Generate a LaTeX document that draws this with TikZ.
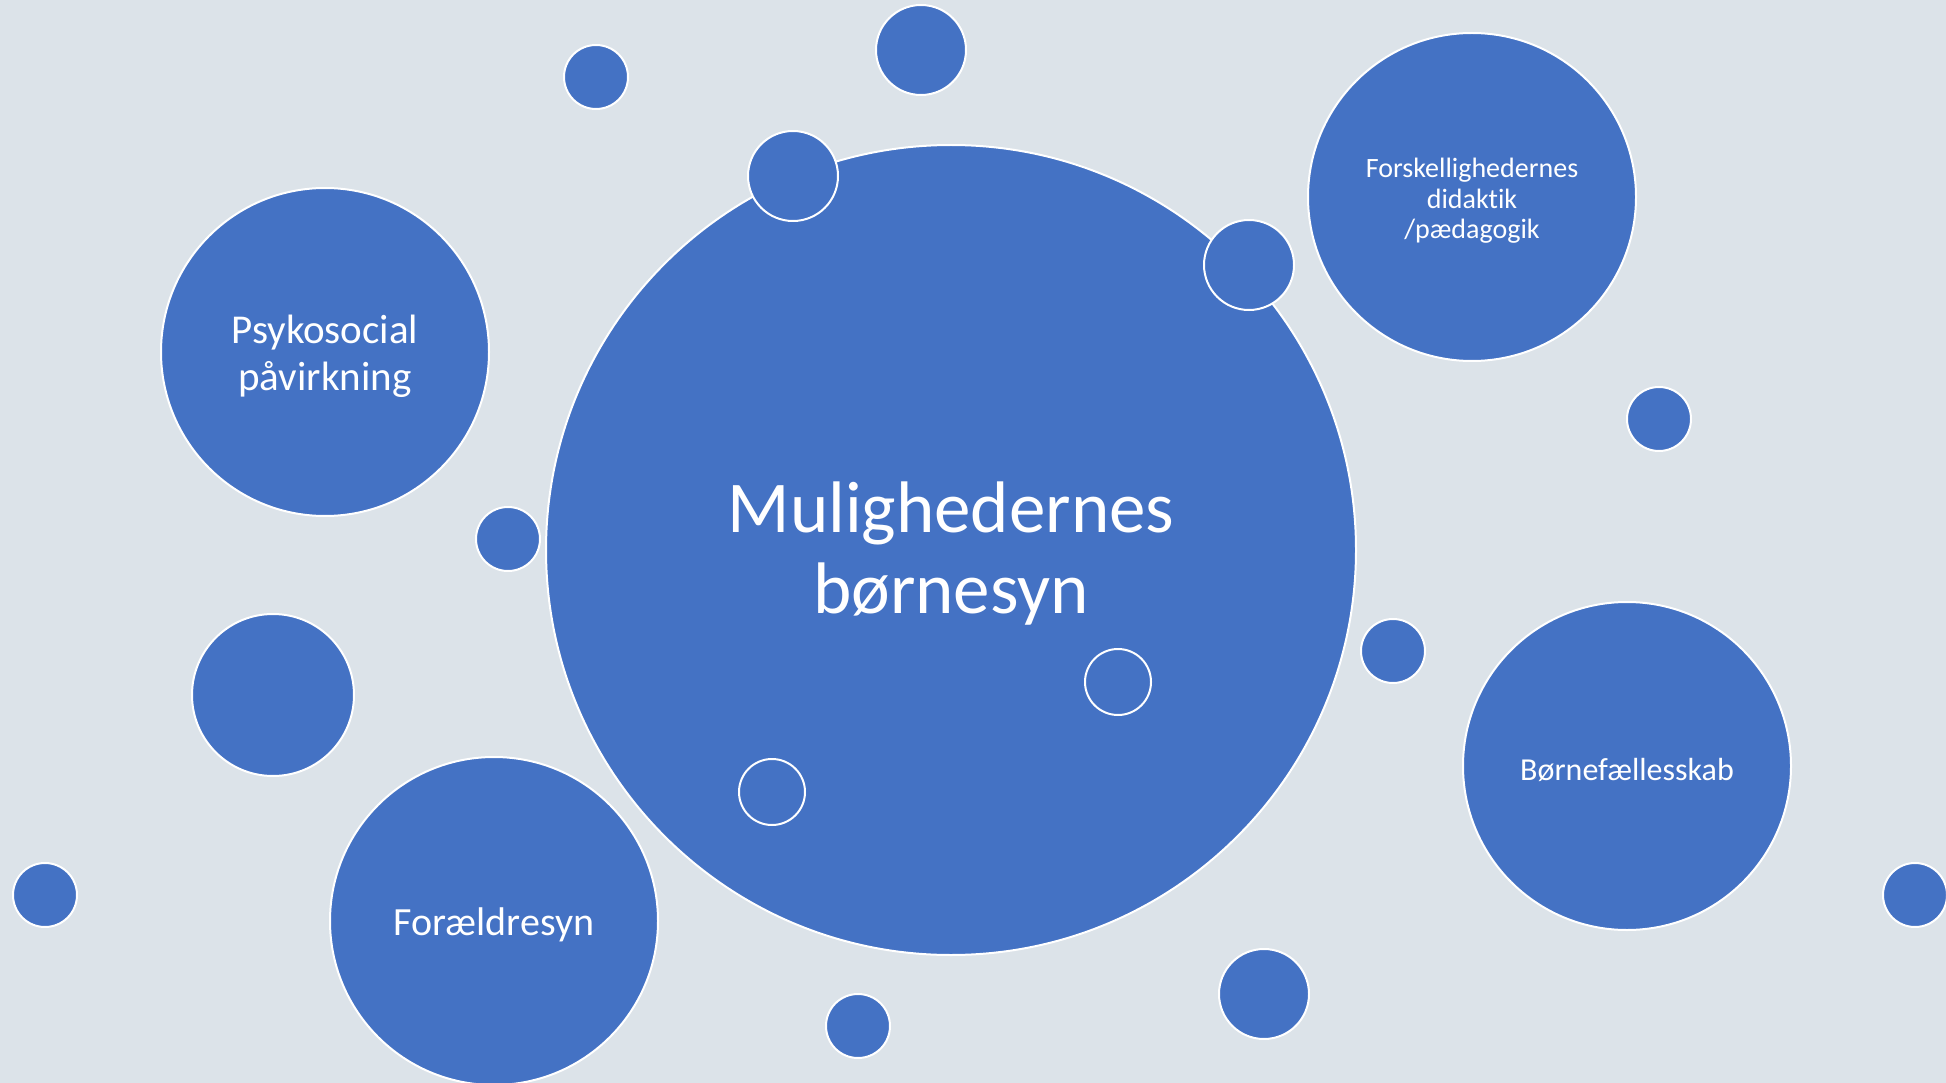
\documentclass[tikz,border=0pt]{standalone}
\usepackage{fontspec}
\setmainfont{Carlito}[Ligatures=CommonOff]
\definecolor{bubbleblue}{HTML}{4472C4}
\definecolor{slidebg}{HTML}{DCE3E9}
\tikzset{
  bubble/.style={circle, fill=bubbleblue, draw=white, line width=2pt, inner sep=0pt},
  bigbubble/.style={bubble, minimum size=328pt},
  dot/.style={bubble, minimum size=64pt},
  middot/.style={bubble, minimum size=90pt},
  ringdot/.style={circle, draw=white, line width=2pt, inner sep=0pt, minimum size=66pt},
  bubbletext/.style={text=white, align=center, inner sep=0pt, yshift=-4pt}
}
\begin{document}
\begin{tikzpicture}[x=1pt, y=-1pt]

    % Background of the slide
    \fill[slidebg] (0,0) rectangle (1946,1083);
    \useasboundingbox (0,0) rectangle (1946,1083);

    % Main bubble
    \node[bubble, minimum size=810pt,
      label={[bubbletext, font=\fontsize{73}{81}\selectfont]center:Mulighedernes\\børnesyn}] (main) at (951,550) {};

    % Bubbles with labels
    \node[bigbubble, label={[bubbletext, font=\fontsize{41}{47}\selectfont]center:Psykosocial\\påvirkning}] (psyko) at (325,352) {};
    \node[bigbubble, label={[bubbletext, font=\fontsize{28}{30.5}\selectfont]center:Forskellighedernes\\didaktik\\/pædagogik}] (forskel) at (1472,197) {};
    \node[bigbubble, label={[bubbletext, font=\fontsize{32}{36}\selectfont]center:Børnefællesskab}] (boern) at (1627,766) {};
    \node[bigbubble, label={[bubbletext, font=\fontsize{40}{46}\selectfont]center:Forældresyn}] (foraeld) at (494,921) {};

    % Empty bubble
    \node[bubble, minimum size=162pt] (empty) at (273,695) {};

    % Small dots
    \foreach \px/\py [count=\i] in {596/77, 1659/419, 508/539, 1393/651, 45/895, 1915/895, 858/1026}
        \node[dot] (dot\i) at (\px,\py) {};

    % Medium dots
    \foreach \px/\py [count=\i] in {921/50, 793/176, 1249/265, 1264/994}
        \node[middot] (mid\i) at (\px,\py) {};

    % Rings inside the main bubble
    \node[ringdot] (ring1) at (1118,682) {};
    \node[ringdot] (ring2) at (772,792) {};

\end{tikzpicture}
\end{document}
